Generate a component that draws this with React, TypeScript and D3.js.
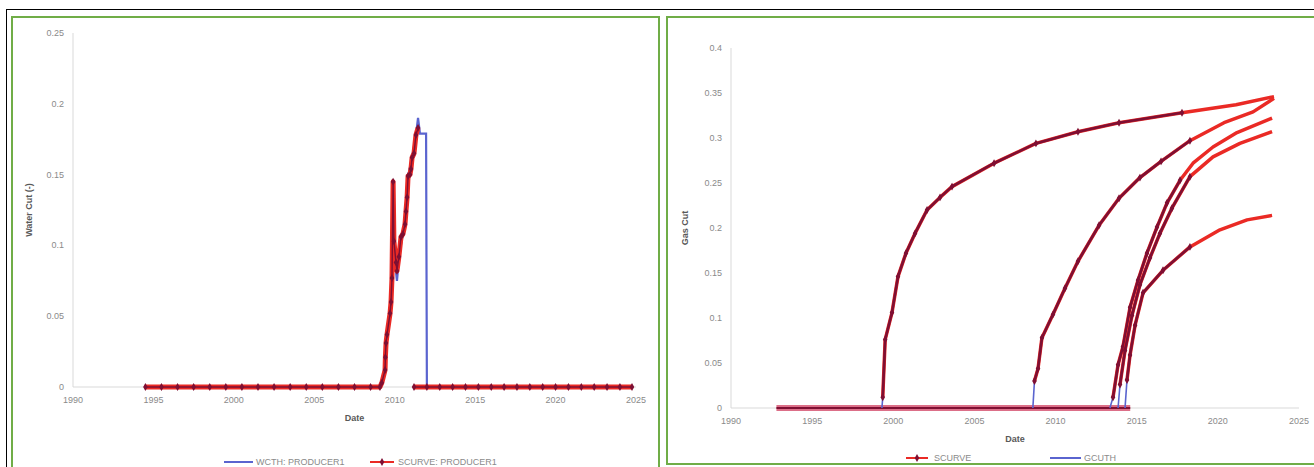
import React from "react";
import * as d3 from "d3";

type Pt = [number, number];

// ---- data ----
const yearTicks = [1990, 1995, 2000, 2005, 2010, 2015, 2020, 2025];
const waterCutTicks = [0, 0.05, 0.1, 0.15, 0.2, 0.25];
const gasCutTicks = [0, 0.05, 0.1, 0.15, 0.2, 0.25, 0.3, 0.35, 0.4];

const waterLegend = ["WCTH: PRODUCER1", "SCURVE: PRODUCER1"];
const gasLegend = ["SCURVE", "GCUTH"];

// left chart, red series with markers (NaN = break in the line)
const scurveWater: Pt[] = [
  [1994.5, 0], [1995.5, 0], [1996.5, 0], [1997.5, 0], [1998.5, 0], [1999.5, 0],
  [2000.5, 0], [2001.5, 0], [2002.5, 0], [2003.5, 0], [2004.5, 0], [2005.5, 0],
  [2006.5, 0], [2007.5, 0], [2008.5, 0], [2009.08, 0],
  [2009.2, 0.003], [2009.4, 0.012], [2009.42, 0.021], [2009.46, 0.031], [2009.52, 0.037],
  [2009.71, 0.052], [2009.77, 0.06], [2009.83, 0.077], [2009.9, 0.145], [2009.95, 0.103],
  [2010.08, 0.088], [2010.14, 0.082], [2010.26, 0.092], [2010.39, 0.106], [2010.51, 0.108],
  [2010.64, 0.115], [2010.7, 0.124], [2010.77, 0.134], [2010.83, 0.149], [2010.95, 0.15],
  [2011.01, 0.154], [2011.08, 0.162], [2011.2, 0.165], [2011.32, 0.178], [2011.45, 0.183],
  [NaN, NaN],
  [2011.2, 0], [2012.0, 0], [2012.8, 0], [2013.6, 0], [2014.4, 0], [2015.2, 0], [2016.0, 0],
  [2016.8, 0], [2017.6, 0], [2018.4, 0], [2019.2, 0], [2020.0, 0], [2020.8, 0], [2021.6, 0],
  [2022.4, 0], [2023.2, 0], [2024.0, 0], [2024.75, 0],
];

// left chart, history line
const wcthWater: Pt[] = [
  [1994.5, 0], [2009.08, 0], [2009.4, 0.012], [2009.52, 0.037], [2009.77, 0.06],
  [2009.83, 0.077], [2009.9, 0.145], [2010.0, 0.09], [2010.14, 0.075], [2010.3, 0.095],
  [2010.51, 0.108], [2010.7, 0.124], [2010.83, 0.149], [2011.08, 0.162], [2011.32, 0.178],
  [2011.45, 0.19], [2011.57, 0.179], [2011.95, 0.179], [2012.0, 0], [2024.75, 0],
];

// right chart
const gasBase: Pt[] = [
  [1992.8, 0], [1994, 0], [1995.5, 0], [1997, 0], [1998.5, 0], [2000, 0], [2001.5, 0],
  [2003, 0], [2004.5, 0], [2006, 0], [2007.5, 0], [2009, 0], [2010.5, 0], [2012, 0],
  [2013.5, 0], [2014.6, 0],
];
const gasWellA: Pt[] = [
  [1999.3, 0], [1999.35, 0.012], [1999.5, 0.076], [1999.92, 0.106], [2000.29, 0.146],
  [2000.78, 0.172], [2001.34, 0.194], [2002.08, 0.22], [2002.88, 0.234], [2003.62, 0.246],
  [2006.21, 0.272], [2008.79, 0.294], [2011.38, 0.307], [2013.91, 0.317], [2017.79, 0.328],
  [2021.12, 0.337], [2023.46, 0.346],
];
const gasWellB: Pt[] = [
  [2008.6, 0], [2008.7, 0.03], [2008.92, 0.044], [2009.16, 0.078], [2009.84, 0.104],
  [2010.58, 0.133], [2011.38, 0.163], [2012.68, 0.203], [2013.91, 0.233], [2015.2, 0.256],
  [2016.5, 0.274], [2018.28, 0.297], [2020.38, 0.317], [2022.17, 0.329], [2023.46, 0.344],
];
const gasWellC: Pt[] = [
  [2013.35, 0], [2013.54, 0.012], [2013.85, 0.048], [2014.15, 0.068], [2014.59, 0.112],
  [2015.08, 0.142], [2015.63, 0.172], [2016.25, 0.201], [2016.87, 0.228], [2017.67, 0.253],
  [2018.47, 0.272], [2019.7, 0.29], [2021.18, 0.306], [2023.34, 0.322],
];
const gasWellD: Pt[] = [
  [2013.85, 0], [2013.97, 0.026], [2014.28, 0.064], [2014.71, 0.103], [2015.2, 0.137],
  [2015.82, 0.167], [2016.43, 0.194], [2017.17, 0.222], [2018.28, 0.257], [2019.7, 0.279],
  [2021.36, 0.294], [2023.34, 0.307],
];
const gasWellE: Pt[] = [
  [2014.28, 0], [2014.4, 0.031], [2014.59, 0.059], [2014.9, 0.092], [2015.39, 0.128],
  [2016.62, 0.153], [2018.28, 0.179], [2020.13, 0.198], [2021.8, 0.209], [2023.34, 0.214],
];
const gasWells = [gasWellA, gasWellB, gasWellC, gasWellD, gasWellE];
const gasHistoryEnd = 2018.3;

// ---- styles ----
const RED = "#ea2a25";
const DARK = "#7e0f33";
const BLUE = "#5a64cf";
const AXIS = "#d9d9d9";
const TICK = "#8a8a8a";
const FONT = "'Liberation Sans', Arial, sans-serif";

const diamond = d3.symbol().type(d3.symbolDiamond).size(18)();

function Axes({ x, y, xTicks, yTicks, xTitle, yTitle, yTitleX }: any) {
  const [x0, x1] = x.range();
  const [y0, y1] = y.range();
  return (
    <g fontFamily={FONT}>
      <line x1={x0} x2={x0} y1={y0} y2={y1} stroke={AXIS} />
      <line x1={x0} x2={x1} y1={y0} y2={y0} stroke={AXIS} />
      {yTicks.map((t: number) => (
        <text key={t} x={x0 - 9} y={y(t)} dy="0.33em" textAnchor="end" fontSize={9} fill={TICK}>
          {String(t)}
        </text>
      ))}
      {xTicks.map((t: number) => (
        <text key={t} x={x(t)} y={y0 + 16} textAnchor="middle" fontSize={9} fill={TICK}>
          {String(t)}
        </text>
      ))}
      <text x={(x0 + x1) / 2} y={y0 + 34} textAnchor="middle" fontSize={9} fontWeight="bold" fill="#595959">
        {xTitle}
      </text>
      <text
        transform={`translate(${yTitleX},${(y0 + y1) / 2}) rotate(-90)`}
        textAnchor="middle"
        fontSize={9}
        fontWeight="bold"
        fill="#595959"
      >
        {yTitle}
      </text>
    </g>
  );
}

function Markers({ pts, x, y, color }: any) {
  return (
    <g fill={color}>
      {pts
        .filter((p: Pt) => !isNaN(p[0]))
        .map((p: Pt, i: number) => (
          <path key={i} d={diamond as string} transform={`translate(${x(p[0])},${y(p[1])})`} />
        ))}
    </g>
  );
}

function LeftChart() {
  const x = d3.scaleLinear().domain([1990, 2025]).range([73, 636]);
  const y = d3.scaleLinear().domain([0, 0.25]).range([387, 33]);
  const line = d3
    .line<Pt>()
    .defined((d) => !isNaN(d[0]))
    .x((d) => x(d[0]))
    .y((d) => y(d[1]));
  return (
    <g>
      <Axes x={x} y={y} xTicks={yearTicks} yTicks={waterCutTicks} xTitle="Date" yTitle="Water Cut (-)" yTitleX={32} />
      <path d={line(wcthWater)!} fill="none" stroke={BLUE} strokeWidth={2.2} />
      <path d={line(scurveWater)!} fill="none" stroke={RED} strokeWidth={5} strokeLinejoin="round" />
      <path d={line(scurveWater)!} fill="none" stroke={DARK} strokeWidth={1.4} />
      <Markers pts={scurveWater} x={x} y={y} color={DARK} />
      <g fontFamily={FONT} fontSize={9} fill={TICK}>
        <line x1={224} x2={253} y1={462} y2={462} stroke={BLUE} strokeWidth={2} />
        <text x={256} y={462} dy="0.33em">{waterLegend[0]}</text>
        <line x1={370} x2={394} y1={462} y2={462} stroke={RED} strokeWidth={2} />
        <path d={diamond as string} transform="translate(382,462)" fill={DARK} />
        <text x={398} y={462} dy="0.33em">{waterLegend[1]}</text>
      </g>
    </g>
  );
}

function RightChart() {
  const x = d3.scaleLinear().domain([1990, 2025]).range([731, 1299]);
  const y = d3.scaleLinear().domain([0, 0.4]).range([408, 48]);
  const line = d3.line<Pt>().x((d) => x(d[0])).y((d) => y(d[1]));
  return (
    <g>
      <Axes x={x} y={y} xTicks={yearTicks} yTicks={gasCutTicks} xTitle="Date" yTitle="Gas Cut" yTitleX={688} />
      <path d={line(gasBase)!} fill="none" stroke="#dc6f88" strokeWidth={6} />
      <path d={line(gasBase)!} fill="none" stroke={DARK} strokeWidth={2.2} />
      {gasWells.map((w, i) => (
        <path key={"b" + i} d={line(w.filter((p) => p[0] <= gasHistoryEnd))!} fill="none" stroke={BLUE} strokeWidth={1.6} />
      ))}
      {gasWells.map((w, i) => {
        const red = w.slice(1);
        const hist = red.filter((p) => p[0] <= gasHistoryEnd);
        return (
          <g key={i}>
            <path d={line(red)!} fill="none" stroke={RED} strokeWidth={3.5} strokeLinejoin="round" />
            <path d={line(hist)!} fill="none" stroke={DARK} strokeWidth={2.6} />
            <Markers pts={hist} x={x} y={y} color={DARK} />
          </g>
        );
      })}
      <g fontFamily={FONT} fontSize={9} fill={TICK}>
        <line x1={906} x2={928} y1={458} y2={458} stroke={RED} strokeWidth={2} />
        <path d={diamond as string} transform="translate(917,458)" fill={DARK} />
        <text x={934} y={458} dy="0.33em">{gasLegend[0]}</text>
        <line x1={1050} x2={1081} y1={458} y2={458} stroke={BLUE} strokeWidth={2} />
        <text x={1084} y={458} dy="0.33em">{gasLegend[1]}</text>
      </g>
    </g>
  );
}

export default function App() {
  return (
    <svg
      width={1314}
      height={467}
      style={{ position: "fixed", left: 0, top: 0, background: "#fff" }}
    >
      <rect x={0} y={0} width={1314} height={467} fill="#fff" />
      <line x1={6} x2={1314} y1={9.5} y2={9.5} stroke="#000" />
      <line x1={6.5} x2={6.5} y1={9} y2={467} stroke="#000" />
      <rect x={12} y={17} width={647} height={470} fill="none" stroke="#70ad47" strokeWidth={2} />
      <rect x={667} y={17} width={670} height={447} fill="none" stroke="#70ad47" strokeWidth={2} />
      <LeftChart />
      <RightChart />
    </svg>
  );
}
